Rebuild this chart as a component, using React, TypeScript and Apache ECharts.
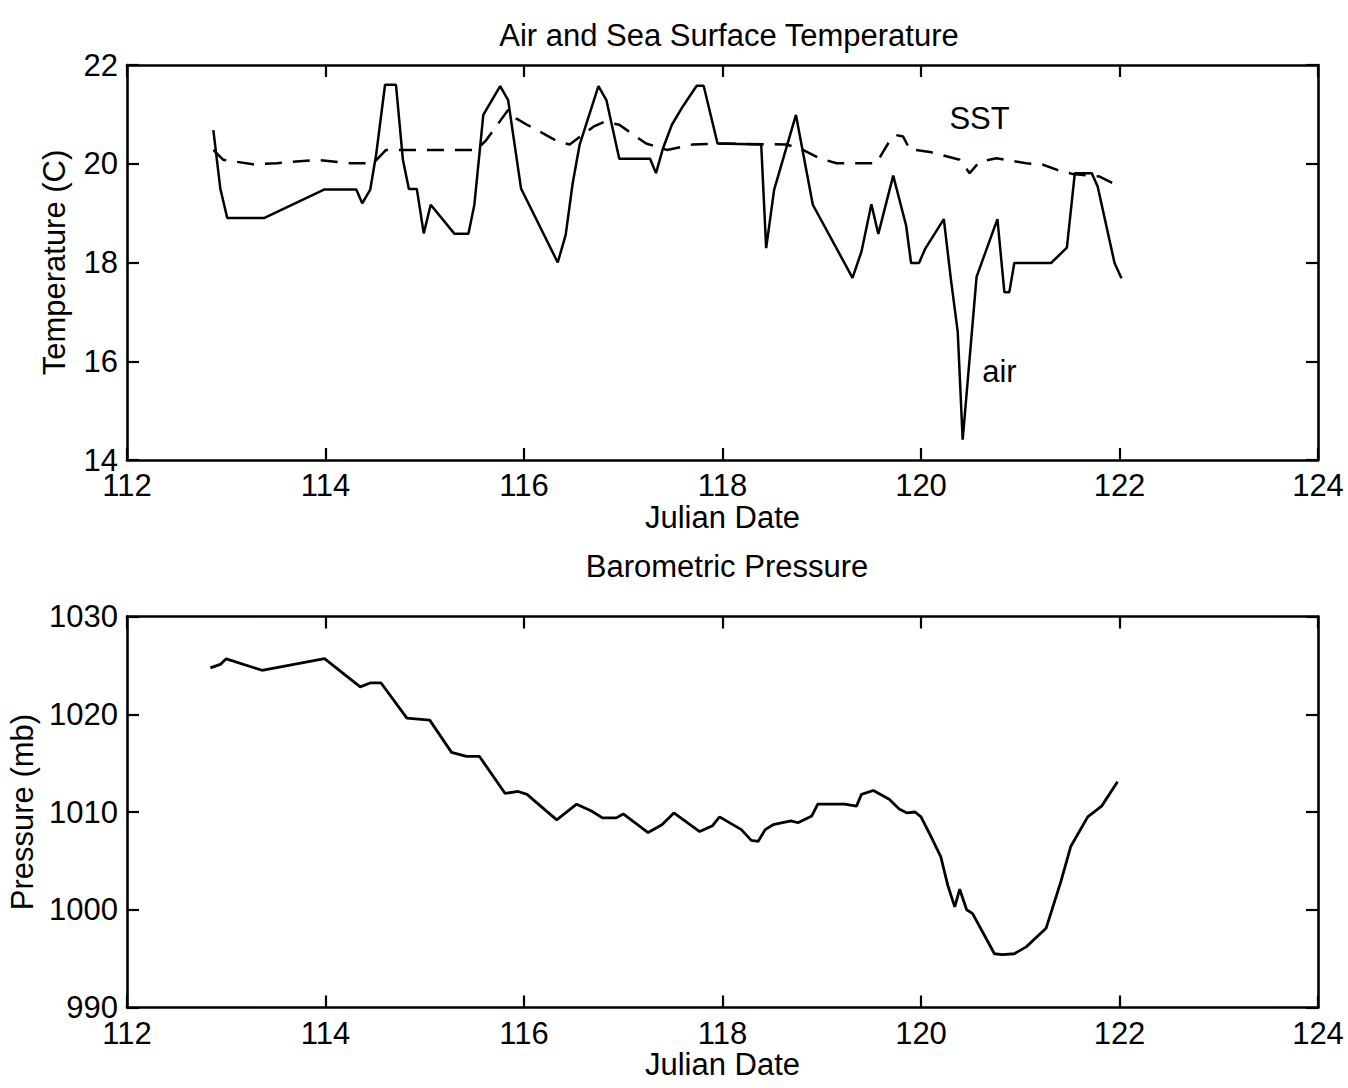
import React, { useEffect, useRef } from "react";
import * as echarts from "echarts";

// ---- data ----
const airDay = [
  112.87, 112.94, 113.01, 113.38, 113.99, 114.31, 114.37, 114.45, 114.51, 114.6,
  114.71, 114.78, 114.84, 114.92, 114.99, 115.06, 115.3, 115.44, 115.5, 115.59,
  115.76, 115.84, 115.97, 116.34, 116.42, 116.49, 116.56, 116.75, 116.83, 116.96,
  117.27, 117.33, 117.4, 117.49, 117.6, 117.74, 117.81, 117.95, 118.39, 118.44,
  118.52, 118.74, 118.81, 118.91, 119.31, 119.4, 119.5, 119.57, 119.72, 119.85,
  119.9, 119.98, 120.04, 120.23, 120.3, 120.37, 120.42, 120.56, 120.77, 120.84,
  120.89, 120.94, 121.31, 121.47, 121.55, 121.72, 121.78, 121.95, 122.02,
];
const airTemp = [
  20.68, 19.5, 18.9, 18.9, 19.48, 19.48, 19.2, 19.47, 20.18, 21.6,
  21.6, 20.08, 19.49, 19.49, 18.59, 19.17, 18.58, 18.58, 19.17, 20.99,
  21.57, 21.29, 19.5, 18.0, 18.56, 19.6, 20.38, 21.57, 21.29, 20.1,
  20.1, 19.81, 20.31, 20.79, 21.16, 21.58, 21.58, 20.41, 20.39, 18.29,
  19.47, 20.99, 20.24, 19.17, 17.69, 18.22, 19.18, 18.58, 19.76, 18.75,
  17.99, 17.99, 18.27, 18.88, 17.68, 16.6, 14.41, 17.71, 18.88, 17.4,
  17.4, 17.99, 17.99, 18.3, 19.81, 19.81, 19.54, 17.99, 17.68,
];
const sstDay = [
  112.87, 112.97, 113.27, 113.51, 113.91, 114.25, 114.48, 114.61, 115.52, 115.62,
  115.84, 115.92, 116.03, 116.16, 116.34, 116.46, 116.7, 116.81, 116.96, 117.23,
  117.44, 117.7, 117.97, 118.64, 118.78, 118.98, 119.15, 119.55, 119.68, 119.75,
  119.82, 119.89, 119.95, 120.09, 120.39, 120.49, 120.59, 120.76, 121.06, 121.23,
  121.38, 121.53, 121.8, 121.93, 122.02,
];
const sstTemp = [
  20.28, 20.08, 19.99, 20.01, 20.08, 20.01, 20.01, 20.28, 20.28, 20.48,
  21.09, 20.92, 20.79, 20.65, 20.45, 20.39, 20.75, 20.85, 20.79, 20.41,
  20.28, 20.39, 20.41, 20.39, 20.31, 20.11, 20.01, 20.01, 20.45, 20.58,
  20.55, 20.28, 20.28, 20.24, 20.08, 19.81, 20.04, 20.11, 20.01, 19.98,
  19.87, 19.79, 19.74, 19.61, 19.61,
];
const pressDay = [
  112.84, 112.94, 113.0, 113.36, 113.99, 114.35, 114.45, 114.56, 114.82, 115.05,
  115.27, 115.42, 115.55, 115.81, 115.94, 116.03, 116.33, 116.53, 116.68, 116.79,
  116.93, 117.0, 117.25, 117.39, 117.51, 117.77, 117.9, 117.97, 118.19, 118.29,
  118.36, 118.43, 118.51, 118.69, 118.76, 118.9, 118.96, 119.23, 119.35, 119.4,
  119.52, 119.68, 119.78, 119.86, 119.94, 120.0, 120.1, 120.2, 120.27, 120.34,
  120.39, 120.46, 120.52, 120.74, 120.82, 120.94, 121.06, 121.26, 121.41, 121.51,
  121.68, 121.82, 121.98,
];
const pressVal = [
  1024.75, 1025.1, 1025.67, 1024.5, 1025.7, 1022.8, 1023.2, 1023.2, 1019.6, 1019.4,
  1016.1, 1015.7, 1015.7, 1011.9, 1012.1, 1011.8, 1009.2, 1010.8, 1010.1, 1009.4,
  1009.4, 1009.8, 1007.9, 1008.7, 1009.9, 1008.0, 1008.6, 1009.5, 1008.2, 1007.1,
  1007.0, 1008.2, 1008.7, 1009.1, 1008.9, 1009.6, 1010.8, 1010.8, 1010.6, 1011.8,
  1012.2, 1011.3, 1010.3, 1009.9, 1010.0, 1009.5, 1007.5, 1005.4, 1002.5, 1000.3,
  1002.1, 1000.0, 999.6, 995.5, 995.4, 995.5, 996.2, 998.1, 1002.9, 1006.5,
  1009.5, 1010.6, 1013.1,
];
const dayRange = [112, 124, 2];
const tempRange = [14, 22, 2];
const pressRange = [990, 1030, 10];
const sstLabel = { text: "SST", day: 120.59, value: 20.91 };
const airLabel = { text: "air", day: 120.79, value: 15.79 };

const FONT = "'Liberation Sans', Arial, Helvetica, sans-serif";
const FS = 31;

export default function App() {
  const ref = useRef<HTMLDivElement>(null);

  useEffect(() => {
    const chart = echarts.init(ref.current!, null, { renderer: "svg" });
    const zip = (xs: number[], ys: number[]) => xs.map((x, i) => [x, ys[i]]);
    const axisLine = { show: true, onZero: false, lineStyle: { color: "#000", width: 2.6 } };
    const axisTick = { show: true, inside: true, length: 12, lineStyle: { color: "#000", width: 2.2 } };
    const label = {
      color: "#000",
      fontSize: FS,
      fontFamily: FONT,
      formatter: (v: number) => String(v),
    };
    const nameStyle = { color: "#000", fontSize: FS, fontFamily: FONT };

    const xAxis = (grid: number, pos: "bottom" | "top") => ({
      type: "value",
      gridIndex: grid,
      position: pos,
      min: dayRange[0],
      max: dayRange[1],
      interval: dayRange[2],
      axisLine,
      axisTick,
      splitLine: { show: false },
      axisLabel: pos === "bottom" ? { ...label, margin: 10 } : { show: false },
      name: pos === "bottom" ? "Julian Date" : "",
      nameLocation: "middle",
      nameGap: 38,
      nameTextStyle: nameStyle,
    });
    const yAxis = (grid: number, pos: "left" | "right", r: number[], name: string, gap: number) => ({
      type: "value",
      gridIndex: grid,
      position: pos,
      min: r[0],
      max: r[1],
      interval: r[2],
      axisLine,
      axisTick,
      splitLine: { show: false },
      axisLabel: pos === "left" ? { ...label, margin: 9 } : { show: false },
      name: pos === "left" ? name : "",
      nameLocation: "middle",
      nameGap: gap,
      nameTextStyle: nameStyle,
    });

    const textMark = (t: { text: string; day: number; value: number }) => ({
      silent: true,
      symbol: "circle",
      symbolSize: 1,
      itemStyle: { color: "rgba(0,0,0,0)" },
      label: { show: true, position: "inside", color: "#000", fontSize: FS, fontFamily: FONT, formatter: t.text },
      data: [{ coord: [t.day, t.value] }],
    });

    chart.setOption({
      animation: false,
      backgroundColor: "#fff",
      title: [
        {
          text: "Air and Sea Surface Temperature",
          left: 724,
          top: 14.5,
          textAlign: "center",
          textStyle: { color: "#000", fontSize: FS, fontWeight: "normal", fontFamily: FONT },
        },
        {
          text: "Barometric Pressure",
          left: 722,
          top: 545.5,
          textAlign: "center",
          textStyle: { color: "#000", fontSize: FS, fontWeight: "normal", fontFamily: FONT },
        },
      ],
      grid: [
        { left: 127, top: 65, width: 1191, height: 395, outerBoundsMode: "none", containLabel: false },
        { left: 127, top: 616.5, width: 1191, height: 391, outerBoundsMode: "none", containLabel: false },
      ],
      xAxis: [xAxis(0, "bottom"), xAxis(0, "top"), xAxis(1, "bottom"), xAxis(1, "top")],
      yAxis: [
        yAxis(0, "left", tempRange, "Temperature (C)", 57),
        yAxis(0, "right", tempRange, "", 0),
        yAxis(1, "left", pressRange, "Pressure (mb)", 86.5),
        yAxis(1, "right", pressRange, "", 0),
      ],
      series: [
        {
          name: "air",
          type: "line",
          xAxisIndex: 0,
          yAxisIndex: 0,
          data: zip(airDay, airTemp),
          showSymbol: false,
          lineStyle: { color: "#000", width: 2.5 },
          markPoint: textMark(airLabel),
        },
        {
          name: "SST",
          type: "line",
          xAxisIndex: 0,
          yAxisIndex: 0,
          data: zip(sstDay, sstTemp),
          showSymbol: false,
          lineStyle: { color: "#000", width: 2.5, type: [17, 11] },
          markPoint: textMark(sstLabel),
        },
        {
          name: "pressure",
          type: "line",
          xAxisIndex: 2,
          yAxisIndex: 2,
          data: zip(pressDay, pressVal),
          showSymbol: false,
          lineStyle: { color: "#000", width: 2.8 },
        },
      ],
    });

    return () => chart.dispose();
  }, []);

  return (
    <div
      ref={ref}
      style={{ position: "absolute", left: 0, top: 0, width: 1348, height: 1088, background: "#fff" }}
    />
  );
}
